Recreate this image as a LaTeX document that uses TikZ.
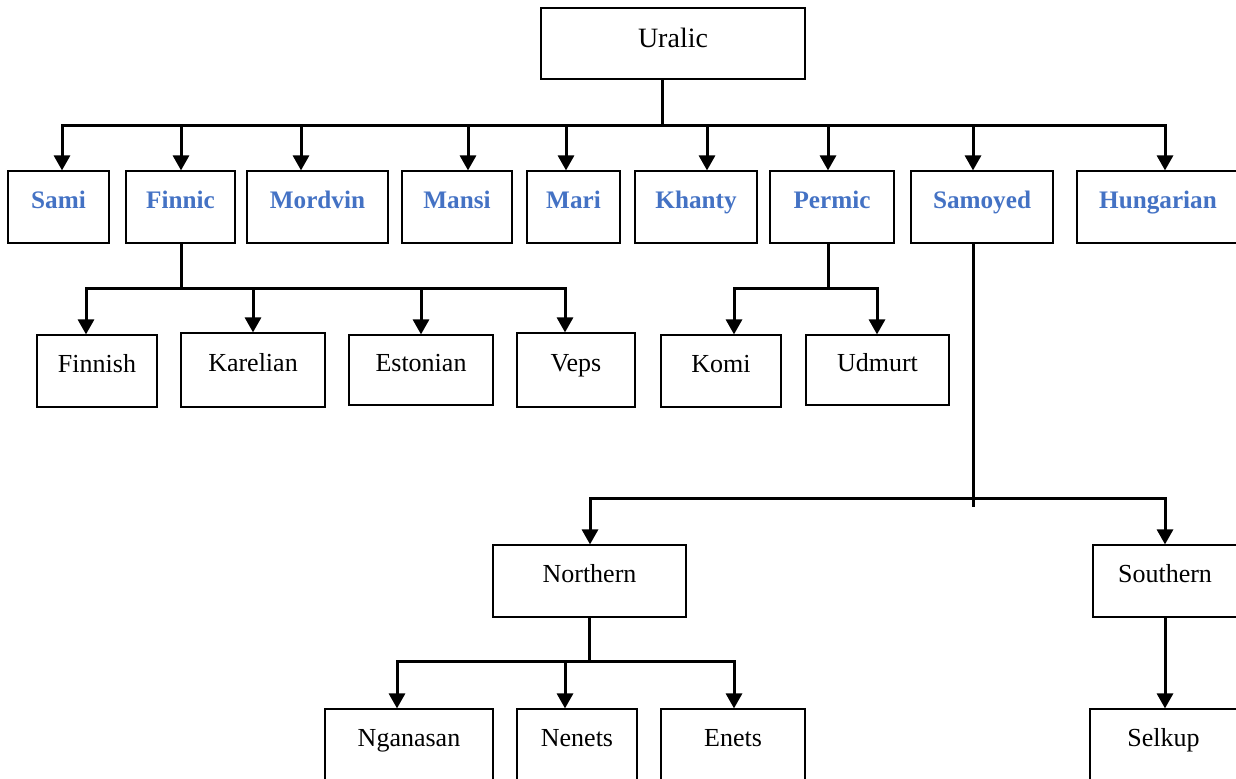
\documentclass[tikz,border=0pt]{standalone}
\usepackage{fontspec}
\setmainfont{Liberation Serif}
\usetikzlibrary{arrows.meta,fit}
\definecolor{famblue}{HTML}{4472C4}
\tikzset{
  x=0.5pt, y=-0.5pt,
  box/.style={draw, line width=0.6pt, inner sep=0pt},
  lbl/.style={font=\fontsize{13}{15}\selectfont, text height=1.6ex, text depth=.5ex, inner sep=0pt, yshift=2pt},
  fam/.style={lbl, font=\fontsize{12.6}{15}\selectfont\bfseries, text=famblue},
  root/.style={lbl, font=\fontsize{14}{16}\selectfont, yshift=-1.5pt},
  link/.style={line width=1.5pt, line cap=rect},
  arr/.style={link, -{Triangle[length=7.5pt,width=8pt]}},
}
% box by its corners, with its caption set a little above the middle
\newcommand\langbox[7]{%
  \node[box, fit={(#2,#3) (#4,#5)}] (#1) {};
  \node[#6] (#1-t) at (#1.center) {#7};}

\begin{document}
\begin{tikzpicture}
\useasboundingbox (0,0) rectangle (1236,778);
\clip (0,0) rectangle (1236,778);

% root
\langbox{ural}{541}{8}{805}{79}{root}{Uralic}

% branches
\langbox{sami}{8}{171}{109}{243}{fam}{Sami}
\langbox{finnic}{126}{171}{235}{243}{fam}{Finnic}
\langbox{mordvin}{247}{171}{388}{243}{fam}{Mordvin}
\langbox{mansi}{402}{171}{512}{243}{fam}{Mansi}
\langbox{mari}{527}{171}{620}{243}{fam}{Mari}
\langbox{khanty}{635}{171}{757}{243}{fam}{Khanty}
\langbox{permic}{770}{171}{894}{243}{fam}{Permic}
\langbox{samoyed}{911}{171}{1053}{243}{fam}{Samoyed}
\langbox{hungarian}{1077}{171}{1239}{243}{fam}{Hungarian}

% Finnic languages
\langbox{finnish}{37}{335}{157}{407}{lbl}{Finnish}
\langbox{karelian}{181}{333}{325}{407}{lbl}{Karelian}
\langbox{estonian}{349}{335}{493}{405}{lbl}{Estonian}
\langbox{veps}{517}{333}{635}{407}{lbl}{Veps}

% Permic languages
\langbox{komi}{661}{335}{781}{407}{lbl}{Komi}
\langbox{udmurt}{806}{335}{949}{405}{lbl}{Udmurt}

% Samoyed groups and languages
\langbox{northern}{493}{545}{686}{617}{lbl}{Northern}
\langbox{southern}{1093}{545}{1237}{617}{lbl}{Southern}
\langbox{nganasan}{325}{709}{493}{781}{lbl}{Nganasan}
\langbox{nenets}{517}{709}{637}{781}{lbl}{Nenets}
\langbox{enets}{661}{709}{805}{781}{lbl}{Enets}
\langbox{selkup}{1090}{709}{1237}{781}{lbl}{Selkup}

% Uralic -> branches
\draw[link] (662,0 |- ural.south) -- (662,125);
\draw[link] (62,125) -- (1165,125);
\foreach \n/\x in {sami/62,finnic/181,mordvin/301,mansi/468,mari/566,
                   khanty/707,permic/828,samoyed/973,hungarian/1165}
  \draw[arr] (\x,125) -- (\x,0 |- \n.north);

% Finnic -> languages
\draw[link] (181,0 |- finnic.south) -- (181,288);
\draw[link] (86,288) -- (565,288);
\foreach \n/\x in {finnish/86,karelian/253,estonian/421,veps/565}
  \draw[arr] (\x,288) -- (\x,0 |- \n.north);

% Permic -> languages
\draw[link] (828,0 |- permic.south) -- (828,288);
\draw[link] (734,288) -- (877,288);
\foreach \n/\x in {komi/734,udmurt/877}
  \draw[arr] (\x,288) -- (\x,0 |- \n.north);

% Samoyed -> groups
\draw[link] (973,0 |- samoyed.south) -- (973,505);
\draw[link] (590,498) -- (1165,498);
\foreach \n/\x in {northern/590,southern/1165}
  \draw[arr] (\x,498) -- (\x,0 |- \n.north);

% Northern -> languages
\draw[link] (589,0 |- northern.south) -- (589,661);
\draw[link] (397,661) -- (734,661);
\foreach \n/\x in {nganasan/397,nenets/565,enets/734}
  \draw[arr] (\x,661) -- (\x,0 |- \n.north);

% Southern -> Selkup
\draw[arr] (1165,0 |- southern.south) -- (1165,0 |- selkup.north);
\end{tikzpicture}
\end{document}
